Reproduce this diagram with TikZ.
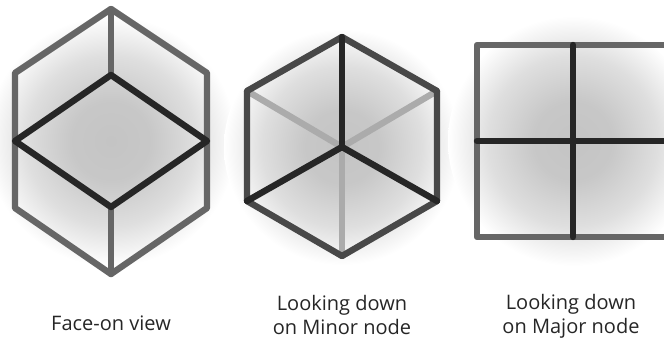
\documentclass[tikz,border=0pt]{standalone}
\usepackage{fontspec}
\setmainfont{Open Sans}
\usepackage{xcolor}
\usetikzlibrary{positioning}
\definecolor{rim-gray}{HTML}{666666}
\definecolor{rim-dark}{HTML}{484848}
\definecolor{bar-dark}{HTML}{262626}
\definecolor{bar-faint}{HTML}{ABABAB}
\definecolor{glow-core}{HTML}{C4C4C4}
\pgfdeclareradialshading{viewglow}{\pgfpoint{0bp}{0bp}}{
	color(0bp)=(glow-core);
	color(8bp)=(glow-core!94!white);
	color(17bp)=(glow-core!55!white);
	color(25bp)=(white);
	color(50bp)=(white)}

\begin{document}
\begin{tikzpicture}[
		x=0.75pt, y=-0.75pt,
		glow/.style={shading=viewglow},
		rim/.style={draw=rim-gray, line width=4.8pt, line join=round, line cap=round},
		rimdark/.style={rim, draw=rim-dark},
		bar/.style={draw=bar-dark, line width=4.8pt, line join=round, line cap=round},
		fainted/.style={bar, draw=bar-faint},
		caption/.style={font=\fontsize{15pt}{18.3pt}\selectfont, align=center, text=bar-dark, inner sep=0pt}
		]
		
		\clip (0,0) rectangle (664,338);
		
		% face-on view
		\shade[glow] (111,141) circle (125);
		\coordinate (ft) at (111,9);
		\coordinate (ful) at (15,73);
		\coordinate (fll) at (15,208);
		\coordinate (fb) at (111,274);
		\coordinate (flr) at (207,208);
		\coordinate (fur) at (207,73);
		\coordinate (dt) at (111,75);
		\coordinate (dl) at (15,141);
		\coordinate (db) at (111,207);
		\coordinate (dr) at (207,141);
		\draw[rim] (ft) -- (ful) -- (fll) -- (fb) -- (flr) -- (fur) -- cycle;
		\draw[rim] (ft) -- (dt);
		\draw[rim] (db) -- (fb);
		\draw[bar] (dt) -- (dl) -- (db) -- (dr) -- cycle;
		\node[caption] (facelabel) at (111,323.5) {Face-on view};
		
		% minor node
		\shade[glow] (342,147) circle (118);
		\coordinate (mc) at (342,147);
		\coordinate (mt) at (342,37);
		\coordinate (mul) at (247,91);
		\coordinate (mll) at (247,201);
		\coordinate (mb) at (342,256);
		\coordinate (mlr) at (437,201);
		\coordinate (mur) at (437,91);
		\foreach \spoke in {mul,mur,mb}
			\draw[fainted] (mc) -- (\spoke);
		\draw[rimdark] (mt) -- (mul) -- (mll) -- (mb) -- (mlr) -- (mur) -- cycle;
		\foreach \spoke in {mt,mll,mlr}
			\draw[bar] (mc) -- (\spoke);
		\node[caption] (minorlabel) at (342,315) {Looking down\\on Minor node};
		
		% major node
		\shade[glow] (573,141) circle (125);
		\coordinate (st) at (573,45);
		\coordinate (sb) at (573,237);
		\coordinate (sl) at (477,141);
		\coordinate (sr) at (671,141);
		\draw[rim] (477,45) rectangle (671,237);
		\draw[bar] (st) -- (sb);
		\draw[bar] (sl) -- (sr);
		\node[caption] (majorlabel) at (571,316.5) {Looking down\\on Major node};
		
	\end{tikzpicture}
\end{document}
